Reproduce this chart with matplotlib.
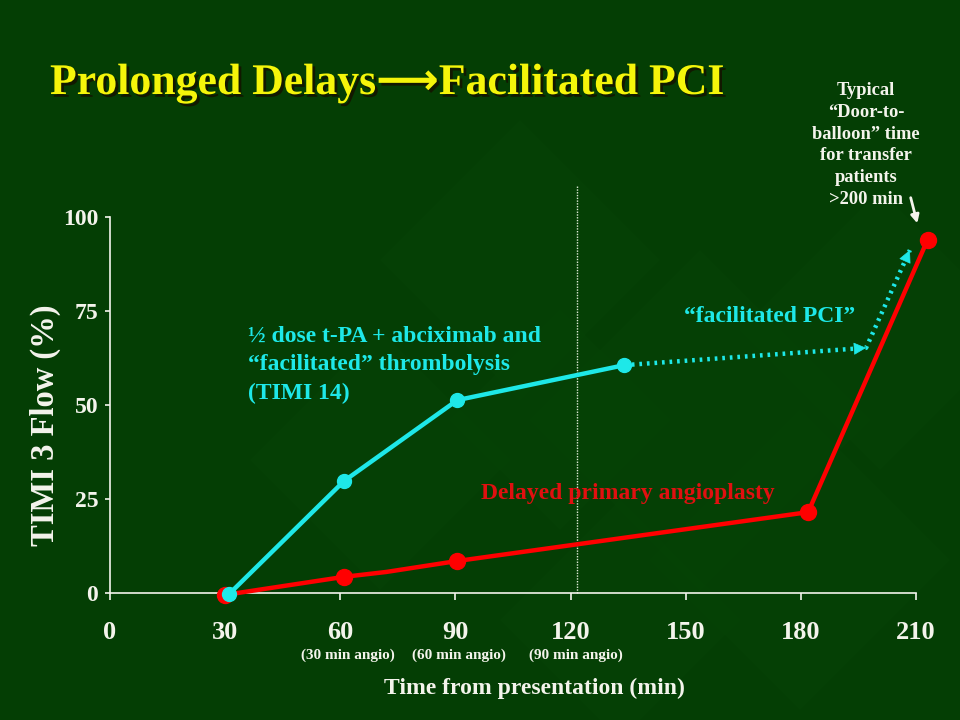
import matplotlib
matplotlib.use("Agg")
import matplotlib.pyplot as plt
import matplotlib.patheffects as pe
from matplotlib.patches import Polygon

# ---- data ----
x_ticks = [0, 30, 60, 90, 120, 150, 180, 210]
y_ticks = [0, 25, 50, 75, 100]

tpa_x = [31, 61, 90.5, 134]
tpa_y = [-0.3, 29.8, 51.3, 60.6]

pci_x = [134, 197, 208.4]
pci_y = [60.6, 65.2, 91.2]

red_x = [30, 61, 72, 90.4, 181.9, 213]
red_y = [-0.5, 4.3, 5.6, 8.5, 21.5, 93.9]
red_marker_idx = [0, 1, 3, 4, 5]

vline_x = 121.8
vline_top = 108.5

sub_labels = ["(30 min angio)", "(60 min angio)", "(90 min angio)"]
sub_label_x = [62, 91, 121.5]

BG = "#043e04"
CYAN = "#1ee8e8"
RED = "#ff0000"
RED_TXT = "#e01010"
WHITE = "#f4f4ec"
SERIF = ["Liberation Serif", "DejaVu Serif"]

plt.rcParams["font.family"] = SERIF
plt.rcParams["font.weight"] = "bold"

fig = plt.figure(figsize=(9.6, 7.2), dpi=100, facecolor=BG)

# subtle diagonal background pattern
bgax = fig.add_axes([0, 0, 1, 1], zorder=-10)
bgax.set_xlim(0, 960); bgax.set_ylim(720, 0); bgax.axis("off")
for (cx, cy, s) in [(520, 260, 140), (700, 420, 170), (800, 560, 150), (380, 460, 130),
                    (620, 620, 120), (880, 330, 140), (560, 420, 110)]:
    bgax.add_patch(Polygon([(cx, cy - s), (cx + s, cy), (cx, cy + s), (cx - s, cy)],
                           closed=True, facecolor="#0a4a0a", alpha=0.2, lw=0))

ax = fig.add_axes([110/960, 1-593/720, (916-110)/960, (593-217)/720])
ax.set_facecolor("none")
ax.set_xlim(0, 210)
ax.set_ylim(0, 100)
for s in ["top", "right"]:
    ax.spines[s].set_visible(False)
for s in ["left", "bottom"]:
    ax.spines[s].set_color(WHITE)
    ax.spines[s].set_linewidth(1.2)
ax.set_xticks(x_ticks)
ax.set_yticks(y_ticks)
ax.tick_params(axis="x", colors=WHITE, length=5, width=1.2, pad=15, labelsize=19)
ax.tick_params(axis="y", colors=WHITE, length=3.5, width=1.2, pad=5, labelsize=17)
for lab in ax.get_xticklabels() + ax.get_yticklabels():
    lab.set_fontweight("bold")
    lab.set_color(WHITE)

# vertical dotted reference line
ax.plot([vline_x, vline_x], [0, vline_top], color="#e0ecd8", lw=1.0,
        linestyle=(0, (1, 1)), clip_on=False, zorder=1)

# red series
ax.plot(red_x, red_y, color=RED, lw=3.2, marker="o", markersize=11.5,
        markevery=red_marker_idx, clip_on=False, zorder=3)

# cyan series
ax.plot(tpa_x, tpa_y, color=CYAN, lw=3.2, marker="o", markersize=10,
        clip_on=False, zorder=4)

# dotted facilitated PCI arrows
ax.plot(pci_x, pci_y, color=CYAN, lw=3.2, linestyle=(0, (0.6, 1.1)),
        dash_capstyle="butt", clip_on=False, zorder=4)
for i in (1, 2):
    x0, y0 = pci_x[i-1], pci_y[i-1]
    x1, y1 = pci_x[i], pci_y[i]
    ax.annotate("", xy=(x1, y1), xytext=(x1 - (x1-x0)*0.02, y1 - (y1-y0)*0.02),
                arrowprops=dict(arrowstyle="-|>", color=CYAN, lw=0.5,
                                mutation_scale=20), annotation_clip=False)

# text annotations
fig.text(248/960, 1-365/720, "½ dose t-PA + abciximab and\n“facilitated” thrombolysis\n(TIMI 14)",
         fontsize=17, color=CYAN, fontweight="bold",
         va="center", ha="left", linespacing=1.45)
fig.text(770/960, 1-317/720, "“facilitated PCI”", fontsize=17, color=CYAN,
         fontweight="bold", ha="center", va="center")
fig.text(481/960, 1-494/720, "Delayed primary angioplasty", fontsize=17,
         color=RED_TXT, fontweight="bold", ha="left", va="center")
fig.text(866/960, 1-145/720,
         "Typical\n“Door-to-\nballoon” time\nfor transfer\npatients\n>200 min",
         fontsize=13.3, color=WHITE, fontweight="bold", ha="center", va="center",
         linespacing=1.38)
bgax.annotate("", xy=(918, 226), xytext=(910, 195),
              arrowprops=dict(arrowstyle="-|>", color=WHITE, lw=2, mutation_scale=12))

# title with shadow
fig.text(50/960, 1-83/720, "Prolonged Delays⟶Facilitated PCI",
         fontsize=31.5, color="#f5f50a", fontweight="bold", ha="left", va="center",
         family=["Liberation Serif", "DejaVu Sans"],
         path_effects=[pe.withSimplePatchShadow(offset=(2, -2), shadow_rgbFace="#141400", alpha=0.9)])

# axis labels
fig.text(45/960, 1-425/720, "TIMI 3 Flow (%)", rotation=90, fontsize=23.5,
         color=WHITE, fontweight="bold", ha="center", va="center")
fig.text(534/960, 1-688/720, "Time from presentation (min)", fontsize=17,
         color=WHITE, fontweight="bold", ha="center", va="center")
for lab, xv in zip(sub_labels, sub_label_x):
    xp = ax.transData.transform((xv, 0))[0]
    fig.text(xp/960, 1-655/720, lab, fontsize=11, color=WHITE,
             fontweight="bold", ha="center", va="center")

fig.savefig("out.png", dpi=100, facecolor=BG)
